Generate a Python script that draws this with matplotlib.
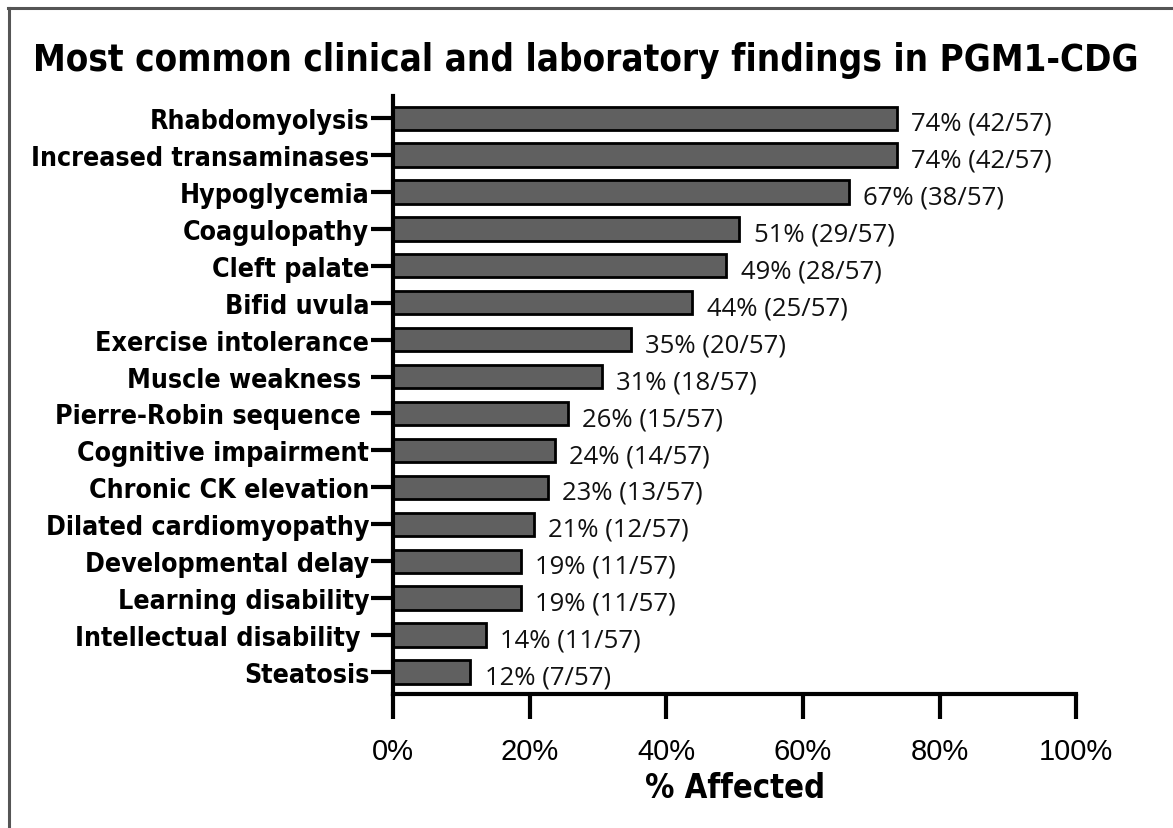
import matplotlib
matplotlib.use('Agg')
import matplotlib.pyplot as plt
from matplotlib.lines import Line2D

findings = ['Rhabdomyolysis', 'Increased transaminases', 'Hypoglycemia', 'Coagulopathy',
            'Cleft palate', 'Bifid uvula', 'Exercise intolerance', 'Muscle weakness ',
            'Pierre-Robin sequence ', 'Cognitive impairment', 'Chronic CK elevation',
            'Dilated cardiomyopathy', 'Developmental delay', 'Learning disability',
            'Intellectual disability ', 'Steatosis']
percent = [73.7, 73.7, 66.7, 50.7, 48.8, 43.8, 34.8, 30.6, 25.6, 23.7, 22.7, 20.6, 18.7, 18.7, 13.6, 11.3]
value_labels = ['74% (42/57)', '74% (42/57)', '67% (38/57)', '51% (29/57)', '49% (28/57)',
                '44% (25/57)', '35% (20/57)', '31% (18/57)', '26% (15/57)', '24% (14/57)',
                '23% (13/57)', '21% (12/57)', '19% (11/57)', '19% (11/57)', '14% (11/57)',
                '12% (7/57)']
xticks = [0, 20, 40, 60, 80, 100]

# condensed bold for the Prism-style labels
narrow = dict(family='DejaVu Sans', stretch='condensed', fontweight='bold')

fig = plt.figure(figsize=(11.73, 8.29), dpi=100)
ax = fig.add_axes([0.335, 0.1616, 0.5825, 0.7214])

ypos = list(range(len(findings) - 1, -1, -1))
ax.barh(ypos, percent, height=0.63, color='#606060', edgecolor='black', linewidth=2)

for y, v, lab in zip(ypos, percent, value_labels):
    ax.text(v + 2.1, y - 0.14, lab, va='center', ha='left', fontsize=18.5,
            family=['Open Sans', 'DejaVu Sans'], color='#111111')

ax.set_xlim(0, 100)
ax.set_ylim(-0.6, len(findings) - 0.4)
ax.set_yticks(ypos)
ax.set_yticklabels(findings, fontsize=19.2, **narrow)
ax.set_xticks(xticks)
ax.set_xticklabels([f'{t}%' for t in xticks], family=['Liberation Sans', 'DejaVu Sans'], fontsize=21)
ax.tick_params(axis='y', length=16, width=3, pad=1)
ax.tick_params(axis='x', length=18, width=3, pad=13)

for s in ['top', 'right']:
    ax.spines[s].set_visible(False)
for s in ['left', 'bottom']:
    ax.spines[s].set_linewidth(3)

ax.set_xlabel('% Affected', fontsize=23.5, labelpad=4, **narrow)

fig.text(0.499, 0.927, 'Most common clinical and laboratory findings in PGM1-CDG', ha='center', va='center',
         fontsize=26.4, **narrow)

# grey frame of the original image (top and left edges)
fig.add_artist(Line2D([0.007, 1.0], [0.989, 0.989], transform=fig.transFigure, color='#555555', linewidth=2.2))
fig.add_artist(Line2D([0.0077, 0.0077], [0.0, 0.989], transform=fig.transFigure, color='#555555', linewidth=2.2))

fig.savefig('out.png', dpi=100, facecolor='white')
